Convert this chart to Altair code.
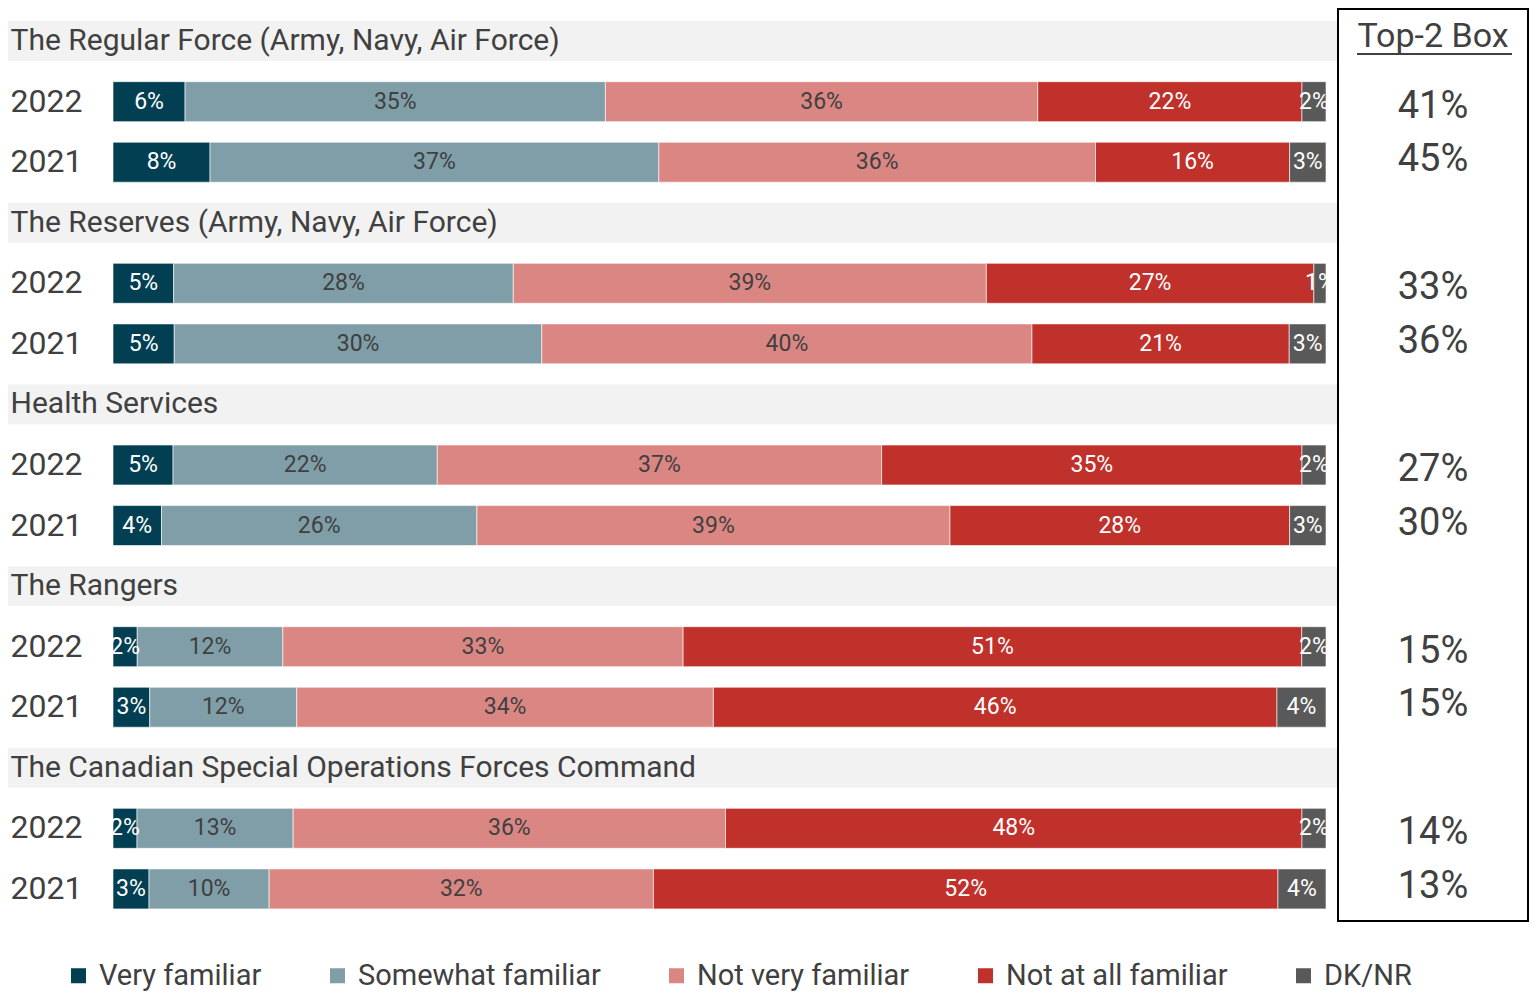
import altair as alt
import pandas as pd

groups = [
    "The Regular Force (Army, Navy, Air Force)",
    "The Reserves (Army, Navy, Air Force)",
    "Health Services",
    "The Rangers",
    "The Canadian Special Operations Forces Command",
]
years = ["2022", "2021"]
categories = ["Very familiar", "Somewhat familiar", "Not very familiar", "Not at all familiar", "DK/NR"]
colors = ["#023F52", "#7F9EA8", "#DA8783", "#C0312B", "#595959"]

# values in order: group-major, 2022 then 2021
very_familiar = [6, 8, 5, 5, 5, 4, 2, 3, 2, 3]
somewhat_familiar = [35, 37, 28, 30, 22, 26, 12, 12, 13, 10]
not_very_familiar = [36, 36, 39, 40, 37, 39, 33, 34, 36, 32]
not_at_all_familiar = [22, 16, 27, 21, 35, 28, 51, 46, 48, 52]
dk_nr = [2, 3, 1, 3, 2, 3, 2, 4, 2, 4]
top2_box = [41, 45, 33, 36, 27, 30, 15, 15, 14, 13]
top2_title = "Top-2 Box"

series = [very_familiar, somewhat_familiar, not_very_familiar, not_at_all_familiar, dk_nr]

row_domain = []
long_rows = []
top_rows = []
for gi, g in enumerate(groups):
    row_domain.append(g)
    for yi, yr in enumerate(years):
        key = f"{g}|{yr}"
        row_domain.append(key)
        idx = gi * 2 + yi
        for ci, c in enumerate(categories):
            long_rows.append({"row": key, "cat": c, "order": ci, "value": series[ci][idx]})
        top_rows.append({"row": key, "year": yr, "lab": f"{top2_box[idx]}%"})

df = pd.DataFrame(long_rows)
hdr_df = pd.DataFrame({"row": groups})
top_df = pd.DataFrame(top_rows)
title_df = pd.DataFrame({"row": [groups[0]], "lab": [top2_title]})

FONT = "Roboto"
TXT = "#404040"
H = 912
BW = 1213
WL = 1224
WR = 190

yscale = alt.Scale(domain=row_domain, paddingInner=0.34, paddingOuter=0.2)
is_year = "indexof(datum.value, '|') >= 0"
Y = alt.Y(
    "row:N",
    scale=yscale,
    axis=alt.Axis(
        title=None,
        ticks=False,
        tickSize=0,
        domain=False,
        labelAlign="left",
        labelBaseline="middle",
        labelPadding=103,
        labelLimit=1000,
        labelColor=TXT,
        labelFont=FONT,
        labelExpr=f"{is_year} ? split(datum.value, '|')[1] : datum.value",
        labelFontSize={"condition": {"test": is_year, "value": 32}, "value": 30},
        zindex=1,
    ),
)
Yn = alt.Y("row:N", scale=yscale, axis=None)
xscale = alt.Scale(domain=[0, 1], range=[0, BW])

headers = alt.Chart(hdr_df).mark_rect(color="#F2F2F2").encode(
    y=Y, x=alt.value(-105), x2=alt.value("width")
)

base = (
    alt.Chart(df)
    .transform_stack(
        stack="value",
        groupby=["row"],
        as_=["x0", "x1"],
        offset="normalize",
        sort=[alt.SortField("order", order="ascending")],
    )
    .transform_calculate(mid="(datum.x0 + datum.x1) / 2", label="datum.value + '%'")
)

bars = base.mark_bar(stroke="white", strokeWidth=0.6).encode(
    y=Y,
    x=alt.X("x0:Q", scale=xscale, axis=None),
    x2="x1:Q",
    color=alt.Color(
        "cat:N",
        scale=alt.Scale(domain=categories, range=colors),
        legend=alt.Legend(
            title=None,
            orient="none",
            legendX=-49,
            legendY=952,
            direction="horizontal",
            symbolType="square",
            symbolSize=225,
            symbolStrokeWidth=0,
            labelFontSize=29,
            labelColor=TXT,
            labelFont=FONT,
            labelOffset=6,
            labelLimit=1000,
            columnPadding=61,
        ),
    ),
    order=alt.Order("order:Q"),
)

labels = base.mark_text(fontSize=23, font=FONT).encode(
    y=Y,
    x=alt.X("mid:Q", scale=xscale, axis=None),
    text="label:N",
    color=alt.condition(
        "indexof(['Very familiar', 'Not at all familiar', 'DK/NR'], datum.cat) >= 0",
        alt.value("white"),
        alt.value(TXT),
    ),
)

left = alt.layer(headers, bars, labels).properties(
    width=WL, height=H, view=alt.ViewBackground(strokeWidth=0)
)

t2022 = (
    alt.Chart(top_df)
    .transform_filter("datum.year == '2022'")
    .mark_text(fontSize=38, font=FONT, color=TXT, dy=5)
    .encode(y=Yn, text="lab:N")
)
t2021 = (
    alt.Chart(top_df)
    .transform_filter("datum.year == '2021'")
    .mark_text(fontSize=38, font=FONT, color=TXT, dy=-2)
    .encode(y=Yn, text="lab:N")
)
ttitle = alt.Chart(title_df).mark_text(fontSize=34, font=FONT, color=TXT, dy=-4).encode(
    y=Yn, text="lab:N"
)
tline = alt.Chart(title_df).mark_rule(color=TXT, strokeWidth=2, yOffset=13).encode(
    y=Yn, x=alt.value(19), x2=alt.value(174)
)

right = alt.layer(ttitle, tline, t2022, t2021).properties(
    width=WR, height=H, view=alt.ViewBackground(stroke="#000000", strokeWidth=2)
)

chart = (
    alt.hconcat(left, right, spacing=0)
    .properties(padding=0)
    .configure(font=FONT)
)

chart.save("out.html", embed_options={"renderer": "svg", "actions": False})
